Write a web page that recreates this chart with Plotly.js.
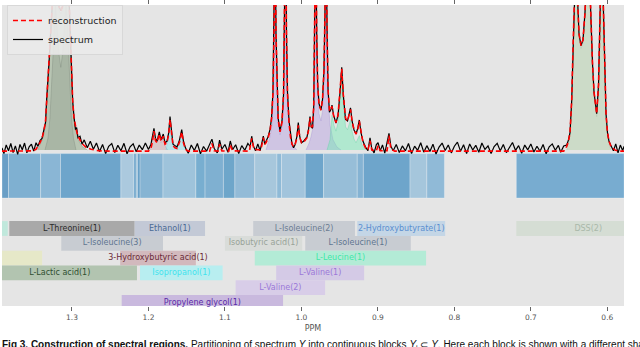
<!DOCTYPE html>
<html>
<head>
<meta charset="utf-8">
<script src="https://cdn.plot.ly/plotly-3.0.1.min.js"></script>
<style>
  html, body { margin: 0; padding: 0; background: #fff; }
  #plot { width: 640px; height: 347px; }
</style>
</head>
<body>
<div id="plot"></div>
<script>
// measured spectrum, [ppm, intensity] (baseline = 0, top of the frame = 100)
const spectrumPts = [
  [1.3915, 1.5], [1.3890, -2.5], [1.3860, 3.5], [1.3830, -0.5], [1.3800, 4.5], [1.3770, -1.8], [1.3740, 2.8],
  [1.3710, -3.0], [1.3680, 3.8], [1.3650, 0.2], [1.3620, 4.8], [1.3590, -2.0], [1.3560, 2.2], [1.3530, 4.0],
  [1.3500, -0.8], [1.3470, 5.0], [1.3445, 2.5],
  [1.3418, 6.5], [1.3392, 8.0], [1.3366, 15], [1.3346, 19], [1.3331, 35], [1.3314, 46], [1.3297, 63],
  [1.3281, 79], [1.3265, 101], [1.3248, 125], [1.3222, 132], [1.3196, 112], [1.3170, 99], [1.3146, 96],
  [1.3124, 99], [1.3098, 112], [1.3072, 132], [1.3052, 125], [1.3035, 100], [1.3026, 81], [1.3017, 61],
  [1.3004, 48], [1.2991, 34], [1.2974, 23], [1.2954, 14], [1.2939, 15.5], [1.2922, 8.5], [1.2895, 9.5], [1.2869, 4.0],
  [1.284, 7.0], [1.280, 1.5], [1.276, 6.0], [1.272, 0.5], [1.268, 4.8], [1.264, -1.0], [1.260, 3.8], [1.256, -2.5],
  [1.252, 2.5], [1.248, 4.4], [1.244, -1.8], [1.240, 3.2], [1.236, -0.5], [1.232, 4.6], [1.228, -2.6], [1.224, 2.2],
  [1.220, 4.2], [1.216, -1.2], [1.212, 3.4], [1.208, 0.2], [1.204, 4.8], [1.200, 0.4],
  [1.1967, 4], [1.1947, 9], [1.1928, 15], [1.1908, 8], [1.1888, 6], [1.1858, 12.5], [1.1836, 7], [1.1806, 11],
  [1.1784, 5], [1.1758, 6], [1.1735, 12], [1.1718, 23], [1.1701, 12], [1.1679, 4], [1.1653, 3], [1.1627, 2],
  [1.1594, 7], [1.1565, 14], [1.1542, 6], [1.1516, 1.5],
  [1.148, -2.2], [1.144, 3.5], [1.140, -0.4], [1.136, 4.5], [1.132, -2.6], [1.128, 2.4], [1.124, -0.8], [1.120, 4.0],
  [1.117, 7.5], [1.114, 1.0], [1.110, -2.0], [1.107, 6.8], [1.104, 0.5], [1.100, 3.8], [1.096, -1.6], [1.093, 6.2],
  [1.090, 0.2], [1.086, 3.6], [1.082, -2.4], [1.078, 3.0], [1.074, -0.2], [1.070, 4.5], [1.067, 2.4], [1.065, 9.5],
  [1.063, 3.0], [1.060, -0.5], [1.057, 4.2], [1.054, -0.5], [1.052, 4.5], [1.0498, 9.5], [1.048, 4.0],
  [1.0463, 6], [1.0437, 9], [1.0411, 14], [1.0391, 22], [1.0372, 40], [1.0358, 80], [1.0345, 160], [1.0332, 80],
  [1.0319, 40], [1.0304, 22], [1.0280, 13], [1.0254, 20], [1.0234, 38], [1.0221, 80], [1.0208, 160], [1.0195, 80],
  [1.0182, 40], [1.0162, 20], [1.0143, 10], [1.0123, 4], [1.0103, 1.5], [1.0084, 3.5], [1.0060, 9], [1.0041, 19],
  [1.0021, 9], [0.9999, 5], [0.9973, 6], [0.9953, 7], [0.9927, 9], [0.9905, 15], [0.9888, 23], [0.9871, 16],
  [0.9855, 15], [0.9839, 30], [0.9826, 70], [0.9813, 160], [0.9800, 80], [0.9787, 45], [0.9770, 32], [0.9744, 27.6],
  [0.9724, 35], [0.9705, 55], [0.9692, 95], [0.9678, 160], [0.9665, 85], [0.9652, 42], [0.9633, 26], [0.9613, 28],
  [0.9600, 31], [0.9580, 24], [0.9548, 18.6], [0.9521, 24], [0.9495, 40], [0.9473, 57], [0.9452, 38], [0.9423, 21],
  [0.9397, 20], [0.9378, 25], [0.9358, 29], [0.9338, 20], [0.9312, 13.8], [0.9286, 11], [0.9263, 15], [0.9243, 20.7],
  [0.9221, 12], [0.9195, 6], [0.9162, 2],
  [0.913, -0.5], [0.9103, 8.3], [0.908, 1.0], [0.905, -2.0], [0.902, 3.8], [0.8998, 5.0], [0.897, -0.6], [0.894, 3.5],
  [0.891, -2.2], [0.888, 4.4], [0.8855, 11.5], [0.883, 2.5], [0.880, -0.5], [0.876, 3.8], [0.872, -1.8], [0.868, 2.8],
  [0.864, -0.6], [0.860, 4.5], [0.856, -2.4], [0.852, 2.6], [0.848, -0.2], [0.844, 5.0], [0.840, -1.5], [0.836, 3.0],
  [0.832, -1.0], [0.828, 4.0], [0.824, -2.8], [0.820, 2.0], [0.816, 4.8], [0.812, -0.4], [0.808, 3.4], [0.804, -2.0],
  [0.800, 2.6], [0.796, 5.4], [0.792, -0.8], [0.788, 3.6], [0.784, -2.4], [0.780, 4.2], [0.776, 0.0], [0.772, 3.2],
  [0.768, -1.6], [0.764, 4.8], [0.760, 0.4], [0.756, 2.8], [0.752, -2.5], [0.748, 2.4], [0.744, 4.6], [0.740, -0.6],
  [0.736, 3.8], [0.732, -1.8], [0.728, 2.2], [0.724, 5.2], [0.720, -0.3], [0.716, 3.0], [0.712, -2.2], [0.708, 3.4],
  [0.704, 0.1], [0.700, 4.2], [0.696, -1.4], [0.692, 2.6], [0.688, -0.9], [0.684, 3.8], [0.680, -2.6], [0.676, 2.2],
  [0.672, 4.2], [0.668, -0.2], [0.664, 3.2], [0.661, -1.6], [0.657, 2.8],
  [0.6531, 3.4], [0.6508, 7], [0.6488, 12], [0.6466, 34], [0.6449, 70], [0.6429, 110], [0.6409, 140], [0.6390, 105],
  [0.6370, 80], [0.6344, 72], [0.6318, 76], [0.6292, 95], [0.6272, 120], [0.6252, 140], [0.6233, 120], [0.6213, 80],
  [0.6194, 60], [0.6174, 40], [0.6139, 25], [0.6115, 45], [0.6096, 100], [0.6076, 140], [0.6057, 110], [0.6037, 60],
  [0.6017, 25], [0.5998, 12], [0.5978, 6], [0.5952, 3], [0.592, -0.5], [0.589, 4.2], [0.586, -2.0], [0.583, 3.4],
  [0.580, -0.4], [0.578, 2.6]
];

// fitted reconstruction
const reconstructionPts = [
  [1.3915, -0.8], [1.352, -0.6], [1.347, 0.5], [1.3445, 2.5], [1.3418, 5.0], [1.3392, 8.0], [1.3366, 13.5],
  [1.3346, 20], [1.3331, 34], [1.3314, 47], [1.3297, 62], [1.3281, 80], [1.3265, 100], [1.3248, 125], [1.3222, 132],
  [1.3196, 112], [1.3170, 99], [1.3146, 96], [1.3124, 99], [1.3098, 112], [1.3072, 132], [1.3052, 125], [1.3035, 100],
  [1.3026, 80], [1.3017, 62], [1.3004, 47], [1.2991, 34.5], [1.2974, 22], [1.2954, 16], [1.2939, 13], [1.2922, 9.5],
  [1.2895, 6.5], [1.2869, 4.5], [1.282, 2.0], [1.275, 0.5], [1.265, -0.5], [1.250, -0.8], [1.200, -0.8],
  [1.1967, 1], [1.1947, 6], [1.1928, 13], [1.1908, 6.5], [1.1888, 5], [1.1858, 11], [1.1836, 6], [1.1806, 9.5],
  [1.1784, 4], [1.1758, 5], [1.1735, 11], [1.1718, 21], [1.1701, 11], [1.1679, 3], [1.1653, 1.5], [1.1627, 1],
  [1.1594, 5.5], [1.1565, 12.5], [1.1542, 5], [1.1516, 0.5], [1.148, -0.8], [1.120, -0.8], [1.117, 4.5],
  [1.114, -0.5], [1.109, -0.8], [1.107, 4], [1.104, -0.6], [1.095, -0.8], [1.093, 3.5], [1.090, -0.6],
  [1.068, -0.8], [1.065, 8], [1.062, 0.5], [1.054, 0], [1.052, 2.5], [1.0498, 8.5], [1.048, 4],
  [1.0463, 5], [1.0437, 8], [1.0411, 13], [1.0391, 21], [1.0372, 39], [1.0358, 80], [1.0345, 160], [1.0332, 80],
  [1.0319, 40], [1.0304, 21], [1.0280, 12.5], [1.0254, 19], [1.0234, 38], [1.0221, 80], [1.0208, 160], [1.0195, 80],
  [1.0182, 39], [1.0162, 19], [1.0143, 9], [1.0123, 4], [1.0103, 2.5], [1.0084, 3.5], [1.0060, 8], [1.0041, 17],
  [1.0021, 8.5], [0.9999, 5], [0.9973, 5.5], [0.9953, 6.5], [0.9927, 8.5], [0.9905, 14], [0.9888, 22], [0.9871, 16],
  [0.9855, 16], [0.9839, 30], [0.9826, 70], [0.9813, 160], [0.9800, 80], [0.9787, 45], [0.9770, 31], [0.9744, 27.5],
  [0.9724, 35], [0.9705, 55], [0.9692, 95], [0.9678, 160], [0.9665, 85], [0.9652, 42], [0.9633, 27], [0.9613, 28.5],
  [0.9600, 30], [0.9580, 24], [0.9548, 19], [0.9521, 24], [0.9495, 40], [0.9473, 56], [0.9452, 38], [0.9423, 22],
  [0.9397, 20], [0.9378, 24.5], [0.9358, 28], [0.9338, 20], [0.9312, 14], [0.9286, 11], [0.9263, 14], [0.9243, 20],
  [0.9221, 12], [0.9195, 5], [0.9162, 1.5], [0.913, 0], [0.9103, 6.5], [0.908, 0], [0.902, -0.6], [0.8998, 3],
  [0.897, -0.5], [0.888, -0.5], [0.8855, 10], [0.883, 0.5], [0.878, -0.8], [0.657, -0.8],
  [0.6531, 2.5], [0.6508, 6], [0.6488, 12], [0.6466, 34], [0.6449, 70], [0.6429, 110], [0.6409, 140], [0.6390, 105],
  [0.6370, 80], [0.6344, 72], [0.6318, 76], [0.6292, 95], [0.6272, 120], [0.6252, 140], [0.6233, 120], [0.6213, 80],
  [0.6194, 60], [0.6174, 40], [0.6139, 25], [0.6115, 45], [0.6096, 100], [0.6076, 140], [0.6057, 110], [0.6037, 60],
  [0.6017, 25], [0.5998, 12], [0.5978, 6], [0.5952, 2.5], [0.590, 0], [0.585, -0.8], [0.578, -0.8]
];

// per-metabolite lineshapes (shaded areas under the spectrum)
const lacticPts = [
  [1.345, 0], [1.3418, 3.5], [1.3392, 6.5], [1.3366, 11.5], [1.3346, 17.5], [1.3331, 32], [1.3314, 45], [1.3297, 60],
  [1.3281, 78], [1.3265, 98], [1.3248, 123], [1.3222, 130], [1.3196, 110], [1.3170, 97], [1.3146, 94], [1.3124, 97],
  [1.3098, 110], [1.3072, 130], [1.3052, 123], [1.3035, 98], [1.3026, 78], [1.3017, 60], [1.3004, 45], [1.2991, 32],
  [1.2974, 20], [1.2954, 14], [1.2939, 11.5], [1.2922, 7.5], [1.2895, 4.5], [1.2869, 2.5], [1.280, 0]
];
const threoninePts = [
  [1.3353, 0], [1.3314, 8], [1.3288, 22], [1.3262, 50], [1.3235, 85], [1.3216, 100], [1.3196, 85], [1.3170, 66],
  [1.3146, 57], [1.3124, 66], [1.3098, 85], [1.3078, 100], [1.3059, 85], [1.3033, 50], [1.3007, 22], [1.2980, 8], [1.2948, 0]
];
const hydroxybutyricPts = [
  [1.1980, 0], [1.1928, 11], [1.1901, 6], [1.1858, 9.5], [1.1836, 5], [1.1806, 8.5], [1.1771, 1.5], [1.1745, 0]
];
const isopropanolPts = [
  [1.1771, 0], [1.1735, 9], [1.1718, 20], [1.1701, 9.5], [1.1666, 2], [1.1594, 5], [1.1565, 12], [1.1542, 4.5], [1.1509, 0]
];
const valine2Pts = [
  [1.0463, 0], [1.0411, 9], [1.0385, 17], [1.0372, 33], [1.0358, 74], [1.0345, 155], [1.0332, 74], [1.0319, 34],
  [1.0304, 18], [1.0280, 10.5], [1.0254, 16], [1.0234, 33], [1.0221, 74], [1.0208, 155], [1.0195, 74], [1.0182, 34],
  [1.0162, 16], [1.0136, 7], [1.0097, 2], [1.0058, 0]
];
const valine1Pts = [
  [0.9940, 0], [0.9901, 4.5], [0.9875, 9], [0.9848, 16], [0.9826, 60], [0.9813, 155], [0.9800, 75], [0.9787, 40],
  [0.9770, 25], [0.9744, 20], [0.9724, 27], [0.9705, 48], [0.9692, 90], [0.9678, 155], [0.9665, 80], [0.9652, 38],
  [0.9626, 17], [0.9587, 7], [0.9535, 2], [0.9482, 0]
];
const leucinePts = [
  [0.9665, 0], [0.9626, 7], [0.9600, 24], [0.9574, 17], [0.9548, 13], [0.9521, 19], [0.9495, 35], [0.9473, 52],
  [0.9452, 33], [0.9423, 16], [0.9397, 14], [0.9378, 17], [0.9358, 21], [0.9338, 13], [0.9312, 7.5], [0.9286, 5],
  [0.9243, 10], [0.9208, 3.5], [0.9155, 0]
];
const dssPts = [
  [0.6531, 0], [0.6508, 5], [0.6488, 10], [0.6466, 32], [0.6449, 68], [0.6429, 108], [0.6409, 138], [0.6390, 103],
  [0.6370, 78], [0.6344, 70], [0.6318, 74], [0.6292, 93], [0.6272, 118], [0.6252, 138], [0.6233, 118], [0.6213, 78],
  [0.6194, 58], [0.6174, 38], [0.6139, 23], [0.6115, 43], [0.6096, 98], [0.6076, 138], [0.6057, 108], [0.6037, 58],
  [0.6017, 23], [0.5998, 10], [0.5978, 4], [0.5952, 0]
];

// continuous blocks of the partition
const blockStart = [1.3915, 1.383, 1.341, 1.315, 1.236, 1.219, 1.216, 1.214, 1.211, 1.181, 1.138, 1.126,
                    1.102, 1.087, 1.061, 1.032, 1.026, 0.995, 0.971, 0.927, 0.919, 0.858, 0.836, 0.719];
const blockEnd   = [1.383, 1.341, 1.315, 1.236, 1.219, 1.216, 1.214, 1.211, 1.181, 1.138, 1.126, 1.102,
                    1.087, 1.061, 1.032, 1.026, 0.995, 0.971, 0.927, 0.919, 0.858, 0.836, 0.813, 0.578];
const blockColor = ['#6a9fc6', '#7fb0d1', '#8ab6d5', '#6ea5cb', '#abc9de', '#6ea5cb', '#8fbad7', '#5d9ac4',
                    '#86b4d3', '#9ec3db', '#78aed0', '#7fb0d1', '#6ea6ca', '#93bbd7', '#a7c7dc', '#8fbad7',
                    '#a2c4dc', '#6ea5cb', '#97bed8', '#85b3d3', '#6ea5cb', '#a5c6dc', '#90bad7', '#78acd0'];

// metabolite regions, one row each
const regionName  = ['', 'L-Threonine(1)', 'Ethanol(1)', 'L-Isoleucine(2)', '2-Hydroxybutyrate(1)', 'DSS(2)',
                     'L-Isoleucine(3)', 'Isobutyric acid(1)', 'L-Isoleucine(1)',
                     '', '3-Hydroxybutyric acid(1)', 'L-Leucine(1)',
                     'L-Lactic acid(1)', 'Isopropanol(1)', 'L-Valine(1)',
                     'L-Valine(2)', 'Propylene glycol(1)'];
const regionRow   = [1, 1, 1, 1, 1, 1, 2, 2, 2, 3, 3, 3, 4, 4, 4, 5, 6];
const regionStart = [1.42, 1.382, 1.218, 1.063, 0.927, 0.719, 1.314, 1.100, 0.995, 1.42, 1.237, 1.061,
                     1.417, 1.211, 1.033, 1.086, 1.235];
const regionEnd   = [1.384, 1.218, 1.126, 0.930, 0.812, 0.531, 1.181, 0.999, 0.857, 1.339, 1.138, 0.837,
                     1.215, 1.103, 0.918, 0.969, 1.024];
const regionFill  = ['#c0e8dc', '#a9a9a9', '#c3c9d6', '#c8ccd2', '#c4d6e6', '#d5ddd4', '#c8ccd2', '#d9dcd9',
                     '#c8ccd2', '#e6e8c8', '#d2b9bd', '#b3ebd6', '#b2c4b0', '#b8eef0', '#d4cae6', '#d8cde8', '#c9b9de'];
const regionInk   = ['#000', '#2b2b2b', '#4a6a95', '#6c7c93', '#5b8fd0', '#a9b8a9', '#607590', '#98a398',
                     '#607590', '#000', '#6b2a35', '#3ee8a8', '#2f4f2f', '#3fe3ee', '#9b78d8', '#9b78d8', '#5a2aa8'];

const BLOCK_Y = -2.56;   // block strip position on the row axis
const BLOCK_H = 3.0;

function lineshape(pts, fill, edge) {
    return {
        x: pts.map(p => p[0]),
        y: pts.map(p => p[1]),
        yaxis: 'y2',
        mode: 'lines',
        fill: 'tozeroy',
        fillcolor: fill,
        line: { color: edge, width: 0.6 },
        hoverinfo: 'skip',
        showlegend: false
    };
}

const blockTrace = {
    type: 'bar',
    orientation: 'h',
    base: blockStart,
    x: blockEnd.map((e, i) => e - blockStart[i]),
    y: blockStart.map(() => BLOCK_Y),
    width: BLOCK_H,
    marker: { color: blockColor, line: { color: 'rgba(255,255,255,0.35)', width: 0.8 } },
    hoverinfo: 'skip',
    showlegend: false
};

const regionTrace = {
    type: 'bar',
    orientation: 'h',
    base: regionStart,
    x: regionEnd.map((e, i) => e - regionStart[i]),
    y: regionRow,
    width: 1,
    marker: { color: regionFill, line: { width: 0 } },
    textposition: 'none',
    hoverinfo: 'skip',
    showlegend: false
};

// only the regions whose label is drawn
const named = regionName.map((n, i) => i).filter(i => regionName[i] !== '');
const regionText = {
    type: 'scatter',
    mode: 'text',
    x: named.map(i => (regionStart[i] + regionEnd[i]) / 2),
    y: named.map(i => regionRow[i]),
    text: named.map(i => regionName[i]),
    textfont: { family: 'DejaVu Sans', size: 8, color: named.map(i => regionInk[i]) },
    cliponaxis: false,
    hoverinfo: 'skip',
    showlegend: false
};

const spectrumTrace = {
    x: spectrumPts.map(p => p[0]),
    y: spectrumPts.map(p => p[1]),
    yaxis: 'y2',
    mode: 'lines',
    name: 'spectrum',
    legendrank: 2,
    line: { color: 'black', width: 1.2 }
};

const reconstructionTrace = {
    x: reconstructionPts.map(p => p[0]),
    y: reconstructionPts.map(p => p[1]),
    yaxis: 'y2',
    mode: 'lines',
    name: 'reconstruction',
    legendrank: 1,
    line: { color: 'red', width: 1.6, dash: '5px,3px' }
};

const data = [
    blockTrace, regionTrace, regionText,
    lineshape(lacticPts, 'rgba(140,165,130,0.5)', 'rgba(110,130,100,0.6)'),
    lineshape(threoninePts, 'rgba(120,130,120,0.22)', 'rgba(110,120,110,0.5)'),
    lineshape(hydroxybutyricPts, 'rgba(190,130,140,0.3)', 'rgba(170,120,130,0.4)'),
    lineshape(isopropanolPts, 'rgba(100,225,240,0.35)', 'rgba(80,200,220,0.5)'),
    lineshape(valine2Pts, 'rgba(185,165,225,0.5)', 'rgba(160,140,210,0.6)'),
    lineshape(valine1Pts, 'rgba(185,165,225,0.5)', 'rgba(160,140,210,0.6)'),
    lineshape(leucinePts, 'rgba(110,235,180,0.45)', 'rgba(90,210,160,0.6)'),
    lineshape(dssPts, 'rgba(195,215,190,0.75)', 'rgba(170,190,165,0.7)'),
    spectrumTrace, reconstructionTrace
];

const layout = {
    width: 640,
    height: 347,
    margin: { l: 2, r: 16, t: 5, b: 41 },
    paper_bgcolor: '#ffffff',
    plot_bgcolor: '#e5e5e5',
    barmode: 'overlay',
    font: { family: 'DejaVu Sans', color: '#555' },
    xaxis: {
        range: [1.3915, 0.5782],
        tick0: 0, dtick: 0.1,
        tickformat: '.1f',
        ticks: 'outside', ticklen: 4, tickwidth: 1, tickcolor: '#666',
        mirror: 'ticks',
        showgrid: false, zeroline: false, showline: false,
        tickfont: { size: 7.5, color: '#555' },
        title: { text: 'PPM', font: { size: 8, color: '#555' }, standoff: 4 }
    },
    yaxis: {
        range: [6.236, -14.10],
        showgrid: false, zeroline: false, showticklabels: false, ticks: ''
    },
    yaxis2: {
        range: [-107.6, 100],
        overlaying: 'y',
        visible: false
    },
    legend: {
        x: 0.008, y: 1, xanchor: 'left', yanchor: 'top',
        bgcolor: 'rgba(234,234,234,0.9)',
        bordercolor: '#d8d8d8', borderwidth: 1,
        font: { size: 9.5, color: '#222' },
        itemwidth: 30
    },
    annotations: [{
        xref: 'paper', yref: 'paper',
        x: -0.0032, y: -0.1296, xanchor: 'left', yanchor: 'middle',
        showarrow: false, align: 'left',
        text: '<b>Fig 3. Construction of spectral regions.</b> Partitioning of spectrum <i>Y</i> into continuous blocks <i>Y</i><sub>i</sub> ⊂ <i>Y</i>. Here each block is shown with a different shad',
        font: { family: 'Liberation Sans, Arial', size: 10, color: '#111' }
    }]
};

Plotly.newPlot('plot', data, layout, { displayModeBar: false, staticPlot: true });
</script>
</body>
</html>
